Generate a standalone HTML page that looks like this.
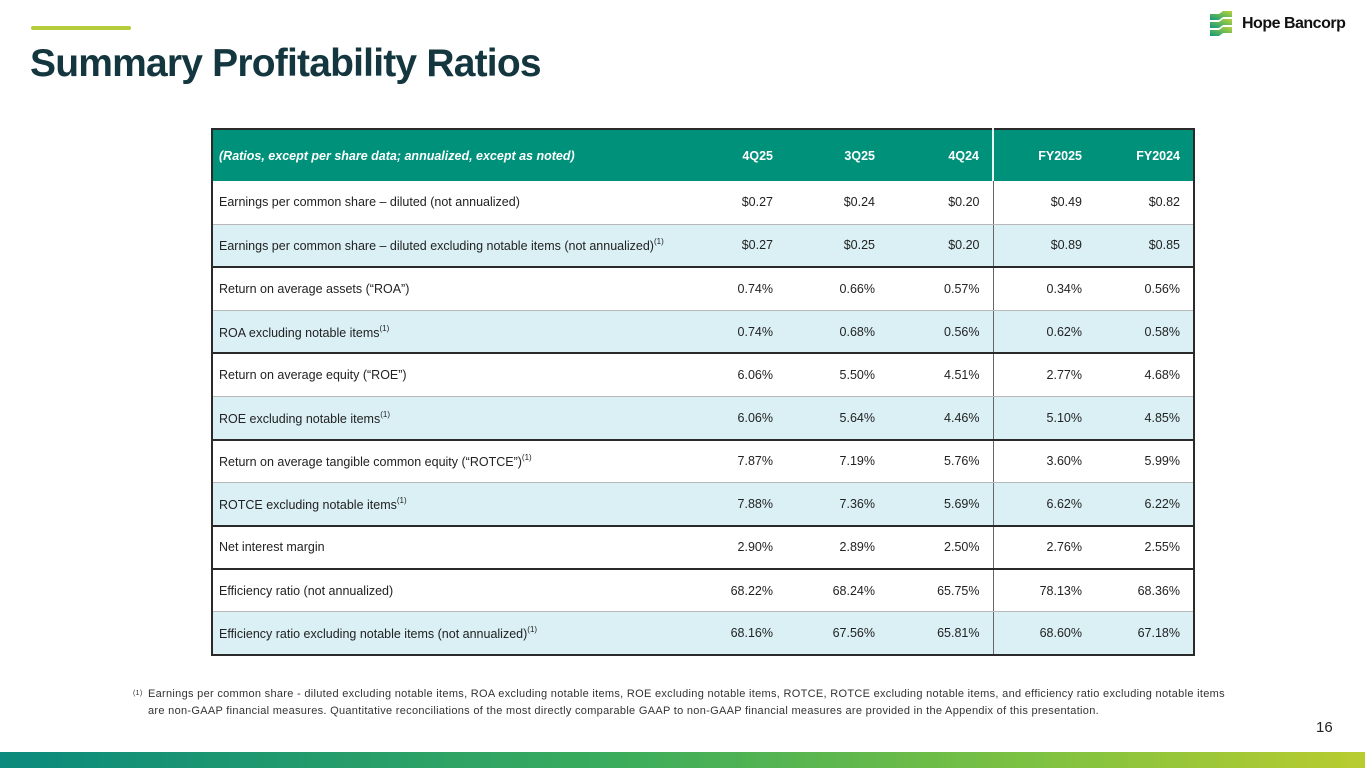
<!DOCTYPE html>
<html><head><meta charset="utf-8">
<style>
*{margin:0;padding:0;box-sizing:border-box}
body{width:1365px;height:768px;position:relative;background:#fff;font-family:"Liberation Sans",sans-serif;overflow:hidden}
.accent{position:absolute;left:31px;top:26px;width:100px;height:4px;background:#b6cd3b;border-radius:2px}
h1{position:absolute;left:30px;top:42px;font-size:39px;font-weight:bold;color:#13363f;letter-spacing:-0.8px}
.logo{position:absolute;left:1208px;top:10px;display:flex;align-items:center}
.logo span{font-size:16px;font-weight:bold;color:#111;margin-left:6px;letter-spacing:-0.5px}
table{position:absolute;left:211px;top:128px;width:982px;border-collapse:collapse;table-layout:fixed;font-size:12.5px;color:#222}
th{background:#00917a;color:#fff;height:52px;font-weight:bold;text-align:right;padding-right:13px;font-size:12.5px}
th.lbl{text-align:left;font-style:italic;padding-left:6px}
td{height:43.1px;text-align:right;padding-right:13px}
td.lbl{text-align:left;padding-left:6px}
tr.b td{background:#daf0f5}
tr.dk td{border-bottom:2px solid #2a2a2a}
tr.lt td{border-bottom:1px solid #b8b8b8}
.sep{border-left:1px solid #666}
th.sep{border-left:2px solid #e8f5f2}
table{border:2px solid #2a2a2a}
sup{font-size:8px;vertical-align:6px}
.foot{position:absolute;left:148px;top:686px;font-size:11px;color:#333;line-height:17px;width:1120px;letter-spacing:0.3px;white-space:nowrap}
.foot sup{position:absolute;left:-15px;top:-1px;font-size:7px;vertical-align:0}
.page{position:absolute;left:1316px;top:719px;font-size:15px;color:#222}
.band{position:absolute;left:0;top:752px;width:1365px;height:16px;background:linear-gradient(90deg,#0b8a7d,#3aac5c 45%,#7cc142 75%,#b9cc2f)}
</style></head><body>
<div class="accent"></div>
<h1>Summary Profitability Ratios</h1>
<div class="logo">
<svg width="28" height="28" viewBox="0 0 28 28"><defs><linearGradient id="g" x1="0" y1="1" x2="1" y2="0"><stop offset="0" stop-color="#0e9a7a"/><stop offset="1" stop-color="#b7d33a"/></linearGradient></defs>
<path d="M2 4h9l4-3h9v6h-9l-4 3H2z" fill="url(#g)"/><path d="M2 12h9l4-3h9v6h-9l-4 3H2z" fill="url(#g)"/><path d="M2 20h9l4-3h9v6h-9l-4 3H2z" fill="url(#g)"/></svg>
<span>Hope Bancorp</span></div>
<table>
<colgroup><col style="width:489px"><col style="width:85px"><col style="width:102px"><col style="width:105px"><col style="width:102px"><col style="width:99px"></colgroup>
<thead><tr><th class="lbl">(Ratios, except per share data; annualized, except as noted)</th><th>4Q25</th><th>3Q25</th><th>4Q24</th><th class="sep">FY2025</th><th>FY2024</th></tr></thead>
<tbody id="tb"></tbody></table>
<div class="foot"><sup>(1)</sup>Earnings per common share - diluted excluding notable items, ROA excluding notable items, ROE excluding notable items, ROTCE, ROTCE excluding notable items, and efficiency ratio excluding notable items<br>are non-GAAP financial measures. Quantitative reconciliations of the most directly comparable GAAP to non-GAAP financial measures are provided in the Appendix of this presentation.</div>
<div class="page">16</div>
<div class="band"></div>
<script>
const labels=["Earnings per common share – diluted (not annualized)","Earnings per common share – diluted excluding notable items (not annualized)<sup>(1)</sup>","Return on average assets (“ROA”)","ROA excluding notable items<sup>(1)</sup>","Return on average equity (“ROE”)","ROE excluding notable items<sup>(1)</sup>","Return on average tangible common equity (“ROTCE”)<sup>(1)</sup>","ROTCE excluding notable items<sup>(1)</sup>","Net interest margin","Efficiency ratio (not annualized)","Efficiency ratio excluding notable items (not annualized)<sup>(1)</sup>"];
const q4_25=["$0.27","$0.27","0.74%","0.74%","6.06%","6.06%","7.87%","7.88%","2.90%","68.22%","68.16%"];
const q3_25=["$0.24","$0.25","0.66%","0.68%","5.50%","5.64%","7.19%","7.36%","2.89%","68.24%","67.56%"];
const q4_24=["$0.20","$0.20","0.57%","0.56%","4.51%","4.46%","5.76%","5.69%","2.50%","65.75%","65.81%"];
const fy25=["$0.49","$0.89","0.34%","0.62%","2.77%","5.10%","3.60%","6.62%","2.76%","78.13%","68.60%"];
const fy24=["$0.82","$0.85","0.56%","0.58%","4.68%","4.85%","5.99%","6.22%","2.55%","68.36%","67.18%"];
const blue=[0,1,0,1,0,1,0,1,0,0,1];
const dark=[0,1,0,1,0,1,0,1,1,0,0];
const tb=document.getElementById('tb');
labels.forEach((l,i)=>{
const tr=document.createElement('tr');


tr.className=(blue[i]?'b ':'')+(i<10?(dark[i]?'dk':'lt'):'');
tr.innerHTML='<td class="lbl">'+l+'</td><td>'+q4_25[i]+'</td><td>'+q3_25[i]+'</td><td>'+q4_24[i]+'</td><td class="sep">'+fy25[i]+'</td><td>'+fy24[i]+'</td>';
tb.appendChild(tr);
});
</script>
</body></html>
